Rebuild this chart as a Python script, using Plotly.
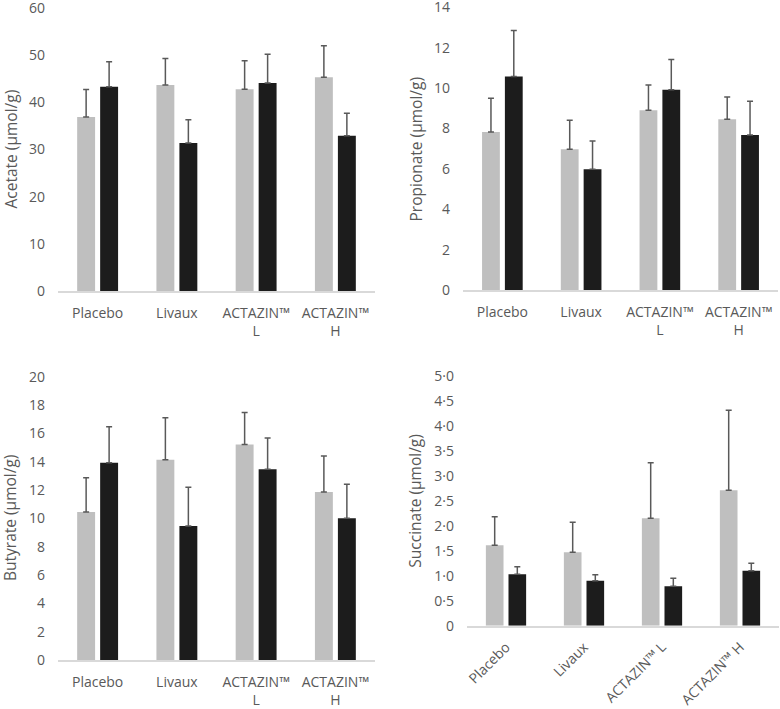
import plotly.graph_objects as go

groups = ["Placebo", "Livaux", "ACTAZIN™ L", "ACTAZIN™ H"]
labels_wrapped = ["Placebo", "Livaux", "ACTAZIN™<br>L", "ACTAZIN™<br>H"]

acetate_gray = [36.9, 43.7, 42.8, 45.3]
acetate_gray_err = [5.8, 5.6, 6.0, 6.7]
acetate_black = [43.3, 31.4, 44.1, 32.9]
acetate_black_err = [5.3, 4.9, 6.1, 4.8]

propionate_gray = [7.83, 6.97, 8.90, 8.45]
propionate_gray_err = [1.67, 1.44, 1.25, 1.11]
propionate_black = [10.57, 5.98, 9.92, 7.68]
propionate_black_err = [2.28, 1.40, 1.49, 1.67]

butyrate_gray = [10.45, 14.14, 15.22, 11.86]
butyrate_gray_err = [2.42, 2.97, 2.26, 2.54]
butyrate_black = [13.93, 9.46, 13.46, 10.0]
butyrate_black_err = [2.54, 2.73, 2.21, 2.4]

succinate_gray = [1.61, 1.47, 2.15, 2.71]
succinate_gray_err = [0.57, 0.60, 1.11, 1.60]
succinate_black = [1.03, 0.90, 0.79, 1.10]
succinate_black_err = [0.15, 0.12, 0.16, 0.15]

succ_tickvals = [0, 0.5, 1.0, 1.5, 2.0, 2.5, 3.0, 3.5, 4.0, 4.5, 5.0]
succ_ticktext = ["0", "0·5", "1·0", "1·5", "2·0", "2·5", "3·0", "3·5", "4·0", "4·5", "5·0"]

GRAY = "#BFBFBF"
BLACK = "#1C1C1C"
ERRC = "#595959"
TXT = "#595959"
FONT = "Open Sans"
W, H = 780, 709

fig = go.Figure()

panels = [
    ("x", "y", acetate_gray, acetate_gray_err, acetate_black, acetate_black_err),
    ("x2", "y2", propionate_gray, propionate_gray_err, propionate_black, propionate_black_err),
    ("x3", "y3", butyrate_gray, butyrate_gray_err, butyrate_black, butyrate_black_err),
    ("x4", "y4", succinate_gray, succinate_gray_err, succinate_black, succinate_black_err),
]

for xa, ya, g, ge, b, be in panels:
    for vals, errs, col in ((g, ge, GRAY), (b, be, BLACK)):
        fig.add_trace(go.Bar(
            x=groups, y=vals, xaxis=xa, yaxis=ya, marker=dict(color=col, line=dict(width=0)),
            error_y=dict(type="data", array=errs, symmetric=False, arrayminus=[0] * len(errs),
                         color=ERRC, thickness=1.5, width=3),
            showlegend=False, hoverinfo="skip"))

def pdx(px):
    return px / W

def pdy(px):
    return 1 - px / H

axis_common = dict(showgrid=False, zeroline=False, fixedrange=True, automargin=False,
                   ticklabeloverflow="allow",
                   tickfont=dict(family=FONT, size=14, color=TXT))

xcommon = dict(axis_common, showline=True, linecolor="#D9D9D9", linewidth=1.5,
               ticks="", type="category", tickvals=groups)

fig.update_layout(
    xaxis=dict(xcommon, domain=[pdx(58), pdx(375)], anchor="y", ticktext=labels_wrapped, tickangle=0,
               ticklabelstandoff=8),
    yaxis=dict(axis_common, domain=[pdy(291), pdy(8)], anchor="x", range=[0, 60], dtick=10,
               showline=False, ticklabelstandoff=12),
    xaxis2=dict(xcommon, domain=[pdx(463), pdx(778)], anchor="y2", ticktext=labels_wrapped, tickangle=0,
                ticklabelstandoff=8),
    yaxis2=dict(axis_common, domain=[pdy(290), pdy(7.3)], anchor="x2", range=[0, 14], dtick=2,
                showline=False, ticklabelstandoff=12),
    xaxis3=dict(xcommon, domain=[pdx(58), pdx(375)], anchor="y3", ticktext=labels_wrapped, tickangle=0,
                ticklabelstandoff=8),
    yaxis3=dict(axis_common, domain=[pdy(660), pdy(376.7)], anchor="x3", range=[0, 20], dtick=2,
                showline=False, ticklabelstandoff=12),
    xaxis4=dict(xcommon, domain=[pdx(467), pdx(779)], anchor="y4", ticktext=groups, tickangle=-45,
                ticklabelstandoff=6),
    yaxis4=dict(axis_common, domain=[pdy(625.7), pdy(375.7)], anchor="x4", range=[0, 5],
                tickvals=succ_tickvals, ticktext=succ_ticktext, showline=False, ticklabelstandoff=12),
    barmode="group",
    bargap=0.42,
    bargroupgap=0.22,
    width=W, height=H,
    margin=dict(l=0, r=0, t=0, b=0, autoexpand=False),
    paper_bgcolor="white", plot_bgcolor="white",
    font=dict(family=FONT, size=14, color=TXT),
)

titles = [
    ("Acetate (µmol/g)", 10, 149.5),
    ("Propionate (µmol/g)", 415, 149.5),
    ("Butyrate (µmol/g)", 10, 518),
    ("Succinate (µmol/g)", 415, 500.7),
]
for text, xpx, ypx in titles:
    fig.add_annotation(text=text, xref="paper", yref="paper", x=pdx(xpx), y=pdy(ypx),
                       textangle=-90, showarrow=False, xanchor="center", yanchor="middle",
                       font=dict(family=FONT, size=15.5, color=TXT))

fig.write_html("out.html", config={"displayModeBar": False},
               post_script="document.body.style.margin='0';document.body.style.overflow='hidden';")
